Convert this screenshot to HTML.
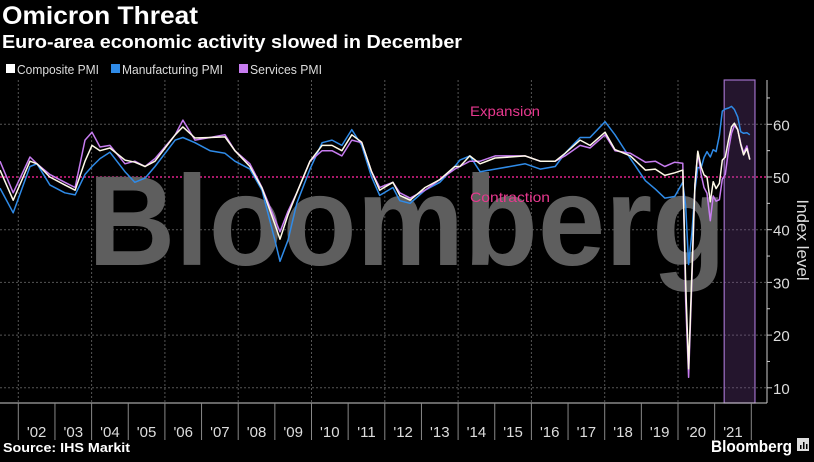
<!DOCTYPE html>
<html><head><meta charset="utf-8">
<style>
html,body{margin:0;padding:0;background:#000;}
body{width:814px;height:457px;overflow:hidden;font-family:"Liberation Sans",sans-serif;}
svg text{font-family:"Liberation Sans",sans-serif;}
</style></head>
<body>
<svg id="chart" width="814" height="457" viewBox="0 0 814 457" xmlns="http://www.w3.org/2000/svg">
<rect x="0" y="0" width="814" height="457" fill="#000"/>
<text x="2" y="24" fill="#fff" font-size="25" font-weight="bold" textLength="196" lengthAdjust="spacingAndGlyphs">Omicron Threat</text>
<text x="2" y="48" fill="#fff" font-size="18" font-weight="bold" textLength="460" lengthAdjust="spacingAndGlyphs">Euro-area economic activity slowed in December</text>
<g font-size="13" fill="#ddd">
<g><rect x="6" y="64" width="9" height="9" fill="#ffffff"/><text x="17" y="74" textLength="82" lengthAdjust="spacingAndGlyphs">Composite PMI</text></g>
<g><rect x="111" y="64" width="9" height="9" fill="#2f8be8"/><text x="122" y="74" textLength="101" lengthAdjust="spacingAndGlyphs">Manufacturing PMI</text></g>
<g><rect x="239" y="64" width="9" height="9" fill="#c77cf0"/><text x="250" y="74" textLength="72" lengthAdjust="spacingAndGlyphs">Services PMI</text></g>
</g>
<g id="grid"></g>
<text x="88" y="265" fill="#5e5e5e" font-size="128" font-weight="bold" textLength="638" lengthAdjust="spacingAndGlyphs">Bloomberg</text>
<g id="shade"></g>
<g id="series"></g>
<g id="axes"></g>
<text x="470" y="116" fill="#e8388f" font-size="14" textLength="70" lengthAdjust="spacingAndGlyphs">Expansion</text>
<text x="470" y="202" fill="#e8388f" font-size="14" textLength="80" lengthAdjust="spacingAndGlyphs">Contraction</text>
<text transform="translate(797,240) rotate(90)" text-anchor="middle" fill="#ddd" font-size="17">Index level</text>
<text x="3" y="452" fill="#fff" font-size="13" font-weight="bold" textLength="127" lengthAdjust="spacingAndGlyphs">Source: IHS Markit</text>
<text x="711" y="452" fill="#fff" font-size="17" font-weight="bold" textLength="81" lengthAdjust="spacingAndGlyphs">Bloomberg</text>
<g><rect x="797" y="438" width="12" height="13" fill="#ddd"/><rect x="800" y="445" width="1.5" height="4" fill="#000"/><rect x="803" y="442" width="1.5" height="7" fill="#000"/><rect x="806" y="444" width="1.5" height="5" fill="#000"/></g>
</svg>
<script>
const dates = [2001.50,2001.86,2002.32,2002.51,2002.86,2003.27,2003.55,2003.82,2004.01,2004.23,2004.50,2004.91,2005.18,2005.46,2005.73,2006.28,2006.49,2006.82,2007.23,2007.64,2007.91,2008.32,2008.65,2009.00,2009.14,2009.36,2009.60,2009.96,2010.29,2010.56,2010.83,2011.10,2011.37,2011.64,2011.86,2012.22,2012.41,2012.69,2013.10,2013.50,2013.91,2014.05,2014.32,2014.60,2015.01,2015.42,2015.83,2016.24,2016.65,2016.92,2017.33,2017.60,2018.01,2018.28,2018.70,2019.11,2019.38,2019.64,2019.91,2020.13,2020.21,2020.29,2020.38,2020.46,2020.54,2020.63,2020.71,2020.79,2020.88,2020.96,2021.04,2021.13,2021.21,2021.29,2021.38,2021.46,2021.54,2021.63,2021.71,2021.79,2021.88,2021.96];
const composite = [51.3,45.6,53,52.5,50,48.5,47.5,53,56,55,55.5,53.2,52.8,52,53,58,59.5,57.4,57.5,57.6,55,52,47.9,41,38.2,42.8,47,53,56,56,55,58,56.6,51,47.5,49,46.5,45.6,48,49.5,52,52,54,52.5,53.6,53.8,54,53,53,54.5,57,56,58.5,55.2,54,51.3,51.5,50.3,50.8,51.3,29.7,13.6,31.9,48.5,54.9,51.9,50.4,50,45.3,49.1,47.8,48.8,53.2,53.8,57.1,59.5,60.2,59,56.2,54.2,55.4,53.3];
const manufacturing = [47.9,43.2,52,52.5,48.5,47,46.6,50.5,52,53.5,54.7,51,49,49.8,52,57,57.5,56.5,55,54.5,53,51.5,47.5,38,34,38,45,51.5,56.5,57,56,59,56,50,46.5,48,45.5,45,47.5,49,52,53.2,54,51,51.5,52,52.5,51.5,52,54.5,57.5,57.5,60.5,58,53.5,49.3,47.7,46,46.3,49,44.5,33.4,39.4,47.4,51.8,51.7,53.7,54.8,53.8,55.2,54.8,57.9,62.5,62.9,63.1,63.4,62.8,61.4,58.6,58.3,58.4,58];
const services = [53,47,53.8,52.5,50.5,49,48,57,58.5,55.7,56,52.5,53,52,53.5,58,60.8,57,57.5,58,55,52.5,48,42,39.6,43.5,47,53,55,55,54,57,56.5,51,48,49,47,46,47.5,49.5,51.5,52,53,53,54,54,54,53,53,54,56,55.5,58,55,54.5,52.8,53,52,52.8,52.6,26.4,12,30.5,48.3,54.7,50.5,48,46.9,41.7,46.4,45.4,45.7,49.6,50.5,55.2,58.3,59.8,59,56.4,54.6,55.9,53.3];
const yTicks = [10,20,30,40,50,60];
const yearLabels = ["'02","'03","'04","'05","'06","'07","'08","'09","'10","'11","'12","'13","'14","'15","'16","'17","'18","'19","'20","'21"];
const shadeRange = [2021.26,2022.1];

const NS="http://www.w3.org/2000/svg";
const X0=18.3, YW=36.65, PLOT_L=0, PLOT_R=767, PLOT_T=80, PLOT_B=403;
function xScale(d){return X0+(d-2002)*YW;}
function yScale(v){return 177-(v-50)*5.27;}
function mk(tag,attrs,parent){const e=document.createElementNS(NS,tag);for(const k in attrs)e.setAttribute(k,attrs[k]);parent.appendChild(e);return e;}

const grid=document.getElementById('grid');
yTicks.forEach(t=>{
  const l=mk('line',{x1:PLOT_L,x2:PLOT_R,y1:yScale(t),y2:yScale(t),stroke:t===50?'#e0218a':'#555','stroke-width':t===50?1.5:1,'stroke-dasharray':'2,2'},grid);
  
  
});
for(let y=2002;y<=2020;y+=2){
  const l=mk('line',{x1:xScale(y),x2:xScale(y),y1:PLOT_T,y2:PLOT_B,stroke:'#555','stroke-dasharray':'2,2'},grid);
  
  
}

const shade=document.getElementById('shade');
const sx1=xScale(shadeRange[0]), sx2=Math.min(xScale(shadeRange[1]),755);
const sr=mk('rect',{x:sx1,y:PLOT_T,width:sx2-sx1,height:PLOT_B-PLOT_T,fill:'rgba(120,70,150,0.3)',stroke:'#a070c8','stroke-width':1.2},shade);



const series=document.getElementById('series');
[[manufacturing,'#2f8be8','manufacturing-line'],[services,'#c77cf0','services-line'],[composite,'#fffbe8','composite-line']].forEach(([vals,col,name])=>{
  const pts=vals.map((v,i)=>xScale(dates[i]).toFixed(1)+','+yScale(v).toFixed(1)).join(' ');
  const p=mk('polyline',{points:pts,fill:'none',stroke:col,'stroke-width':1.5,'stroke-linejoin':'round'},series);
  
  
});

const axes=document.getElementById('axes');
const ya=mk('line',{x1:PLOT_R,x2:PLOT_R,y1:PLOT_T,y2:PLOT_B,stroke:'#ccc'},axes);


const xa=mk('line',{x1:0,x2:PLOT_R,y1:PLOT_B,y2:PLOT_B,stroke:'#ccc'},axes);


for(let v=10;v<=65;v+=5){
  const t=mk('line',{x1:PLOT_R,x2:PLOT_R+(v%10===0?5:3),y1:yScale(v),y2:yScale(v),stroke:'#ccc'},axes);
  
  
}
yTicks.forEach(t=>{
  const tx=mk('text',{x:PLOT_R+6,y:yScale(t)+6,fill:'#ddd','font-size':15},axes);
  tx.textContent=t;
  
  
});
yearLabels.forEach((lab,i)=>{
  const x=xScale(2002+i);
  const d=mk('line',{x1:x,x2:x,y1:PLOT_B,y2:440,stroke:'#888'},axes);
  
  
  const tx=mk('text',{x:x+YW/2,y:437,fill:'#ddd','font-size':15,'text-anchor':'middle'},axes);
  tx.textContent=lab;
  
  
});
const last=mk('line',{x1:xScale(2022),x2:xScale(2022),y1:PLOT_B,y2:440,stroke:'#888'},axes);


</script>
</body></html>
